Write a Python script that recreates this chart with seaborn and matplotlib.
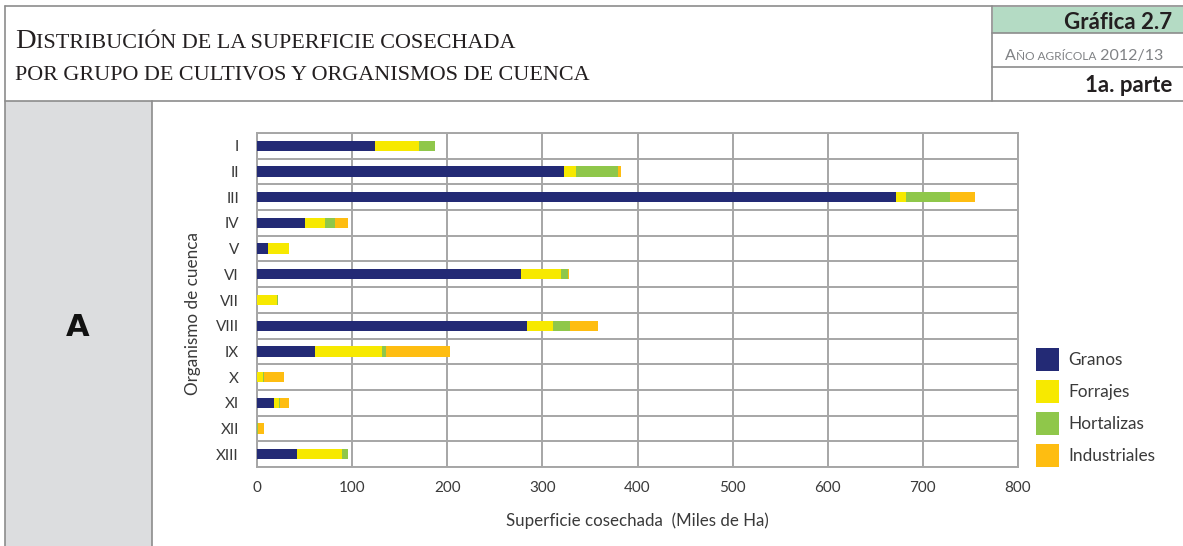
import numpy as np
import pandas as pd
import matplotlib.pyplot as plt
import seaborn as sns
from matplotlib.lines import Line2D
from matplotlib.patches import Rectangle

# Valores (miles de ha)
organismos = ['I', 'II', 'III', 'IV', 'V', 'VI', 'VII', 'VIII', 'IX', 'X', 'XI', 'XII', 'XIII']
granos = [124.3, 323.1, 671.5, 50.0, 11.9, 277.6, 0.0, 283.9, 60.5, 0.0, 17.8, 0.0, 41.6]
forrajes = [45.9, 12.6, 10.5, 21.7, 21.7, 41.7, 21.0, 27.7, 70.4, 6.3, 5.6, 0.5, 48.0]
hortalizas = [16.8, 43.8, 46.6, 9.8, 0.5, 8.0, 1.0, 17.8, 4.6, 1.0, 0.3, 0.8, 6.3]
industriales = [0.0, 3.2, 26.6, 14.1, 0.0, 0.5, 0.0, 29.1, 67.5, 20.8, 9.5, 6.0, 0.0]

grupos = ['Granos', 'Forrajes', 'Hortalizas', 'Industriales']
colores = ['#232a75', '#f7e900', '#8fc74a', '#febd11']

df = pd.DataFrame({'organismo': organismos, 'Granos': granos, 'Forrajes': forrajes,
                   'Hortalizas': hortalizas, 'Industriales': industriales})

sns.set_style('white')
plt.rcParams['font.family'] = ['Lato', 'DejaVu Sans']

W, H = 1183, 546
fig = plt.figure(figsize=(W / 100, H / 100), dpi=100)
fig.patch.set_facecolor('white')


def fx(px):
    return px / W


def fy(py):
    return 1 - py / H


# marco de la ficha
frame_c = '#8c8c8c'
fig.add_artist(Rectangle((fx(5), fy(546)), fx(147), 445 / H, facecolor='#dcdddf',
                         edgecolor='none', transform=fig.transFigure, zorder=0))
fig.add_artist(Rectangle((fx(993), fy(33)), fx(190), 26 / H, facecolor='#b4dbc4',
                         edgecolor='none', transform=fig.transFigure, zorder=0))
for (x0, y0, x1, y1) in [(4.5, 6, 1183, 6), (4.5, 6, 4.5, 546), (4.5, 100.5, 1183, 100.5),
                         (992, 6, 992, 100.5), (992, 33, 1183, 33), (992, 67, 1183, 67),
                         (152, 100.5, 152, 546)]:
    fig.add_artist(Line2D([fx(x0), fx(x1)], [fy(y0), fy(y1)], color=frame_c, lw=1.2,
                          transform=fig.transFigure))

renderer = fig.canvas.get_renderer()


def versalitas(x_px, y_px, partes, **kw):
    # texto en versalitas: cada parte con su propio tamaño, unida sobre la misma línea base
    x = x_px
    for s, size in partes:
        t = fig.text(fx(x), fy(y_px), s, fontsize=size, ha='left', va='baseline', **kw)
        x = t.get_window_extent(renderer).x1


tit_c = '#231f20'
versalitas(15, 48, [('D', 20.5), ('ISTRIBUCIÓN DE LA SUPERFICIE COSECHADA', 15.9)],
           family='Liberation Serif', color=tit_c)
versalitas(15, 80, [('POR GRUPO DE CULTIVOS Y ORGANISMOS DE CUENCA', 15.9)],
           family='Liberation Serif', color=tit_c)

fig.text(fx(1172), fy(29), 'Gráfica 2.7', fontsize=16, fontweight='bold', color=tit_c,
         ha='right', va='baseline')
versalitas(1005, 60, [('A', 11.5), ('ÑO AGRÍCOLA', 8.6), (' 2012/13', 11.5)], color='#808285')
fig.text(fx(1172), fy(92), '1a. parte', fontsize=16, fontweight='bold', color=tit_c,
         ha='right', va='baseline')

fig.text(fx(78), fy(328), 'A', fontsize=22, fontweight='heavy', family='DejaVu Sans',
         color='#111111', ha='center', va='center')

# gráfica de barras apiladas
ax = fig.add_axes([fx(257), fy(467), 761 / W, 334 / H])
acum = df[grupos].cumsum(axis=1)
for g, c in reversed(list(zip(grupos, colores))):
    sns.barplot(x=acum[g], y=df['organismo'], orient='h', color=c, saturation=1,
                width=0.4, linewidth=0, ax=ax, zorder=3)

grid_c = '#a6a6a6'
ax.set_xlim(0, 800)
ax.set_xticks(range(0, 801, 100))
ax.set_ylim(12.5, -0.5)
ax.set_yticks(np.arange(-0.5, 13, 1), minor=True)
ax.grid(axis='x', which='major', color=grid_c, lw=1.4)
ax.grid(axis='y', which='minor', color=grid_c, lw=1.4)
ax.grid(axis='y', which='major', visible=False)
ax.set_axisbelow(True)
for sp in ax.spines.values():
    sp.set_color(grid_c)
    sp.set_linewidth(1.4)

ax.tick_params(axis='both', which='both', length=0, labelsize=11, labelcolor='#3a3a3a')
ax.tick_params(axis='y', pad=13)
ax.tick_params(axis='x', pad=10)

ax.set_xlabel('Superficie cosechada  (Miles de Ha)', fontsize=12.2, color='#3a3a3a')
ax.xaxis.set_label_coords(0.5, -0.162)
ax.xaxis.label.set_va('center')
ax.set_ylabel('Organismo de cuenca', fontsize=12.3, color='#3a3a3a')
ax.yaxis.set_label_coords(-0.084, 0.461)
ax.yaxis.label.set_va('center')

handles = [Rectangle((0, 0), 1, 1, facecolor=c, edgecolor='none') for c in colores]
fig.legend(handles, grupos, loc='upper left', bbox_to_anchor=(fx(1036), fy(348)),
           frameon=False, fontsize=12.4, handlelength=1.34, handleheight=1.68,
           labelspacing=0.52, handletextpad=0.55, borderpad=0, borderaxespad=0,
           labelcolor='#3a3a3a')

fig.savefig('out.png', dpi=100)
plt.close('all')
